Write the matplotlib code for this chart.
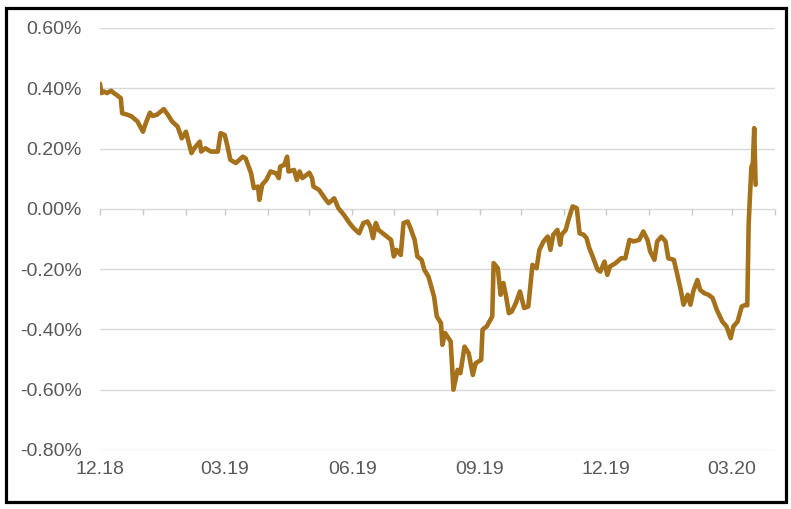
import matplotlib
matplotlib.use("Agg")
import matplotlib.pyplot as plt
import matplotlib.dates as mdates
from matplotlib.patches import Rectangle
import numpy as np
import pandas as pd

plt.rcParams['font.family'] = ['Liberation Sans', 'DejaVu Sans']

start_date = "2018-12-01"
days = [0, 1, 3, 5, 8, 10, 12, 15, 16, 20, 23, 27, 31, 33, 36, 38, 41, 46, 49, 52,
        56, 59, 62, 66, 68, 72, 73, 76, 80, 85, 87, 90, 92, 94, 98, 103, 105, 109, 111, 114,
        115, 117, 120, 123, 127, 129, 130, 133, 135, 136, 140, 142, 144, 146, 151, 153, 154, 158, 163, 165,
        169, 172, 176, 180, 183, 187, 190, 193, 195, 197, 199, 201, 204, 207, 210, 212, 214, 217, 219, 222,
        224, 227, 229, 232, 234, 237, 241, 243, 246, 247, 249, 253, 255, 258, 260, 263, 266, 269, 271, 275,
        276, 279, 283, 284, 287, 289, 291, 293, 295, 297, 300, 303, 306, 309, 312, 315, 317, 320, 323, 325,
        327, 330, 332, 333, 336, 338, 341, 344, 346, 349, 351, 353, 355, 359, 361, 364, 366, 368, 372, 376,
        379, 382, 385, 389, 392, 395, 397, 400, 402, 405, 408, 410, 414, 416, 419, 421, 424, 426, 428, 431,
        433, 436, 439, 442, 445, 449, 452, 455, 457, 460, 463, 466, 467, 468, 469, 470, 471, 472, 473]
values = [0.415, 0.384, 0.389, 0.384, 0.392, 0.384, 0.378, 0.367, 0.317, 0.312, 0.306, 0.290, 0.256, 0.284, 0.319, 0.308, 0.312, 0.331, 0.312, 0.290,
          0.273, 0.234, 0.256, 0.185, 0.201, 0.223, 0.190, 0.201, 0.190, 0.190, 0.251, 0.245, 0.207, 0.163, 0.152, 0.173, 0.168, 0.118, 0.069, 0.074,
          0.030, 0.080, 0.096, 0.124, 0.118, 0.102, 0.140, 0.146, 0.173, 0.124, 0.129, 0.096, 0.124, 0.102, 0.120, 0.102, 0.074, 0.063, 0.030, 0.019,
          0.035, 0.002, -0.020, -0.047, -0.064, -0.081, -0.047, -0.042, -0.059, -0.097, -0.047, -0.070, -0.081, -0.092, -0.103, -0.158, -0.136, -0.153, -0.047, -0.042,
          -0.064, -0.103, -0.158, -0.169, -0.202, -0.225, -0.291, -0.357, -0.379, -0.451, -0.412, -0.440, -0.600, -0.534, -0.545, -0.457, -0.479, -0.551, -0.512, -0.501,
          -0.401, -0.390, -0.357, -0.180, -0.197, -0.285, -0.246, -0.291, -0.346, -0.341, -0.313, -0.274, -0.329, -0.324, -0.186, -0.197, -0.136, -0.108, -0.092, -0.136,
          -0.086, -0.070, -0.119, -0.086, -0.070, -0.036, 0.008, 0.002, -0.081, -0.086, -0.097, -0.130, -0.153, -0.202, -0.208, -0.175, -0.219, -0.191, -0.180, -0.164,
          -0.164, -0.103, -0.108, -0.103, -0.075, -0.103, -0.142, -0.169, -0.108, -0.092, -0.108, -0.164, -0.169, -0.208, -0.269, -0.318, -0.285, -0.318, -0.274, -0.236,
          -0.269, -0.280, -0.285, -0.296, -0.335, -0.374, -0.390, -0.429, -0.390, -0.374, -0.324, -0.318, -0.320, -0.050, 0.050, 0.140, 0.150, 0.268, 0.080]

y_ticks = [-0.8, -0.6, -0.4, -0.2, 0.0, 0.2, 0.4, 0.6]
x_label_dates = ["2018-12-01", "2019-03-01", "2019-06-01", "2019-09-01", "2019-12-01", "2020-03-01"]
x_start, x_end = "2018-12-01", "2020-04-01"

dates = pd.Timestamp(start_date) + pd.to_timedelta(days, unit="D")

line_color = "#A5711B"
grid_color = "#D9D9D9"
text_color = "#595959"

fig = plt.figure(figsize=(7.91, 5.09), dpi=100)
ax = fig.add_axes([100/791, (509-450)/509, 675/791, 422/509])

ax.plot(dates, values, color=line_color, lw=3.3, solid_joinstyle="round", solid_capstyle="round", zorder=3)

ax.set_ylim(-0.8, 0.6)
ax.set_xlim(pd.Timestamp(x_start), pd.Timestamp(x_end))
ax.set_yticks(y_ticks)
ax.set_yticklabels([f"{v:.2f}%" for v in y_ticks])
ax.yaxis.grid(True, color=grid_color, lw=1.0)
ax.set_axisbelow(True)
for s in ax.spines.values():
    s.set_visible(False)
ax.tick_params(axis="y", length=0, pad=13, labelsize=14, labelcolor=text_color)

ax.set_xticks([pd.Timestamp(d) for d in x_label_dates])
ax.xaxis.set_major_formatter(mdates.DateFormatter("%m.%y"))
ax.tick_params(axis="x", length=0, pad=8, labelsize=14, labelcolor=text_color)

# zero axis with monthly tick marks
zero_pos = (0 - (-0.8)) / (0.6 - (-0.8))
sec = ax.secondary_xaxis(zero_pos)
sec.xaxis.set_major_locator(mdates.MonthLocator())
sec.tick_params(axis="x", direction="in", length=4.5, width=1.0, color="#C8C8C8", labelbottom=False, labeltop=False)
sec.spines["bottom"].set_color(grid_color)
sec.spines["top"].set_visible(False)
for k in ("left", "right"):
    sec.spines[k].set_visible(False)
sec.set_zorder(2)

fig.patches.append(Rectangle((5.5/791, 7.5/509), 780/791, 494/509, transform=fig.transFigure,
                             fill=False, edgecolor="black", lw=2.3))

fig.savefig("out.png", dpi=100)
